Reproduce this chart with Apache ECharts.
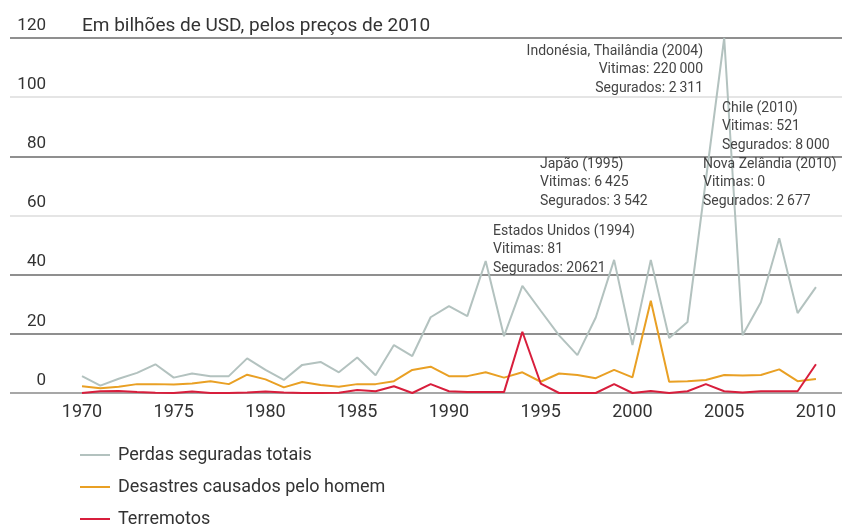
<!DOCTYPE html>
<html>
<head>
<meta charset="utf-8">
<script src="https://cdn.jsdelivr.net/npm/echarts@6/dist/echarts.min.js"></script>
<style>html,body{margin:0;padding:0;background:#fff}#c{width:844px;height:527px}</style>
</head>
<body>
<div id="c"></div>
<script>
const years = [];
for (let y = 1970; y <= 2010; y++) years.push(y);
const seriesNames = ['Perdas seguradas totais', 'Desastres causados pelo homem', 'Terremotos'];
const totalInsured = [5.7,2.5,4.8,6.8,9.7,5.2,6.6,5.7,5.7,11.7,
  7.8,4.4,9.5,10.5,7,12,6,16.2,12.5,25.6,
  29.4,26,44.6,19.2,36.2,27.8,19.5,12.8,25.5,45,
  16.2,45,18.6,24,72,120,19.5,30.7,52.3,27,
  35.8];
const manMade = [2.3,1.6,2.1,3,3,2.9,3.2,4,3,6.2,
  4.6,1.9,3.7,2.7,2.1,3,3,4,7.8,8.9,
  5.7,5.7,7,5.2,7,3.8,6.6,6.1,5,7.8,
  5.3,31.2,3.8,4,4.4,6.1,5.9,6.1,8,4,
  4.7];
const earthquakes = [0,0.6,0.7,0.3,0.1,0,0.5,0,0,0.2,
  0.5,0.2,0,0,0.1,1,0.6,2.3,0,3,
  0.6,0.3,0.3,0.3,20.7,3.2,0,0,0,3,
  0,0.7,0,0.6,3,0.6,0.2,0.6,0.6,0.6,
  9.7];
const xTickLabels = [1970,1975,1980,1985,1990,1995,2000,2005,2010];
const titleText = 'Em bilhões de USD, pelos preços de 2010';
const annotations = [
  {text: 'Indonésia, Thailândia (2004)\nVitimas: 220\u2009000\nSegurados: 2\u2009311', x: 703, y: 42, align: 'right'},
  {text: 'Chile (2010)\nVitimas: 521\nSegurados: 8\u2009000', x: 722, y: 99, align: 'left'},
  {text: 'Japão (1995)\nVitimas: 6\u2009425\nSegurados: 3\u2009542', x: 540, y: 155, align: 'left'},
  {text: 'Nova Zelândia (2010)\nVitimas: 0\nSegurados: 2\u2009677', x: 703, y: 155, align: 'left'},
  {text: 'Estados Unidos (1994)\nVitimas: 81\nSegurados: 20621', x: 493, y: 222, align: 'left'}
];

const FONT = 'Roboto, "Liberation Sans", sans-serif';
const colors = ['#b3c2bf', '#e9a024', '#d81e3c'];
const dataSets = [totalInsured, manMade, earthquakes];

const chart = echarts.init(document.getElementById('c'));
chart.setOption({
  animation: false,
  backgroundColor: '#fff',
  title: {
    text: titleText, left: 82, top: 17, padding: 0,
    textStyle: {fontSize: 19, fontWeight: 'normal', color: '#333', fontFamily: FONT}
  },
  legend: {
    orient: 'vertical', left: 80, top: 446, height: 90, padding: 0,
    icon: 'rect', itemWidth: 30, itemHeight: 2, itemGap: 14,
    data: seriesNames,
    textStyle: {fontSize: 18, color: '#333', fontFamily: FONT, padding: [0,0,0,3]}
  },
  grid: {left: 10, right: 2, top: 38, bottom: 134},
  xAxis: {
    type: 'value', min: 1966.076, max: 2011.42,
    axisLine: {show: false}, axisTick: {show: false},
    splitLine: {show: false},
    axisLabel: {customValues: xTickLabels, formatter: v => String(v),
      fontSize: 18, color: '#333', fontFamily: FONT, margin: 10}
  },
  yAxis: {
    type: 'value', min: 0, max: 120, interval: 20,
    axisLine: {show: false}, axisTick: {show: false},
    axisLabel: {inside: true, align: 'right', margin: 36, verticalAlign: 'bottom', padding: [0,0,4,0],
      fontSize: 17, color: '#333', fontFamily: FONT},
    splitLine: {show: true, lineStyle: {width: 1.5,
      color: ['#8a8a8a', '#6a6a6a', '#6a6a6a', '#dcdcdc', '#6a6a6a', '#dcdcdc', '#6a6a6a']}}
  },
  series: seriesNames.map((name, i) => ({
    name: name, type: 'line', symbol: 'none', clip: false,
    lineStyle: {width: 2, color: colors[i]}, itemStyle: {color: colors[i]},
    data: years.map((y, k) => [y, dataSets[i][k]]),
    z: 2 + i
  })),
  graphic: annotations.map(a => ({
    type: 'text', x: a.x, y: a.y, z: 10,
    style: {text: a.text, align: a.align, verticalAlign: 'top', font: '14px ' + FONT,
      fill: '#444', lineHeight: 18.5}
  }))
});
</script>
</body>
</html>
